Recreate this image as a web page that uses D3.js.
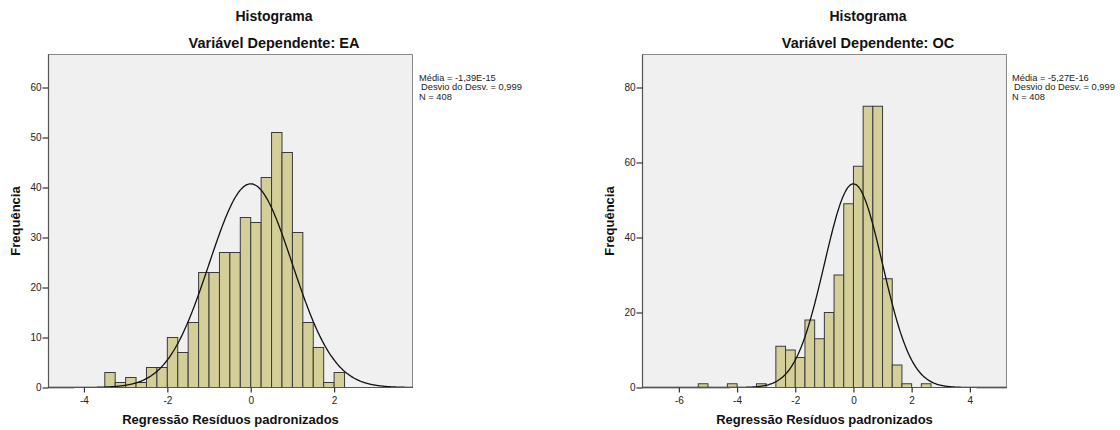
<!DOCTYPE html>
<html>
<head>
<meta charset="utf-8">
<script src="https://cdn.jsdelivr.net/npm/d3@7"></script>
<style>
  html, body { margin: 0; padding: 0; background: #ffffff; }
  svg { display: block; font-family: "Liberation Sans", Arial, sans-serif; }
</style>
</head>
<body>
<svg id="chart" width="1120" height="430"></svg>
<script>
// ---------- DATA ----------
const titleMain = "Histograma";
const yLabel = "Frequência";
const xLabel = "Regressão Resíduos padronizados";

// Panel EA
const eaTitle = "Variável Dependente: EA";
const eaBinStart = [-3.5, -3.25, -3.0, -2.75, -2.5, -2.25, -2.0, -1.75, -1.5, -1.25, -1.0, -0.75,
                    -0.5, -0.25, 0.0, 0.25, 0.5, 0.75, 1.0, 1.25, 1.5, 1.75, 2.0];
const eaCounts   = [3, 1, 2, 1, 4, 4, 10, 7, 13, 23, 23, 27, 27, 34, 33, 42, 51, 47, 31, 13, 8, 1, 3];
const eaBinWidth = 0.25;
const eaMean = -1.39e-15, eaSD = 0.999, eaN = 408;
const eaStats = ["Média = -1,39E-15", " Desvio do Desv. = 0,999", "N = 408"];
const eaXTicks = [-4, -2, 0, 2];
const eaYTicks = [0, 10, 20, 30, 40, 50, 60];

// Panel OC
const ocTitle = "Variável Dependente: OC";
const ocBinStart = [-16/3, -13/3, -10/3, -8/3, -7/3, -2, -5/3, -4/3, -1, -2/3, -1/3, 0,
                    1/3, 2/3, 1, 4/3, 5/3, 7/3];
const ocCounts   = [1, 1, 1, 11, 10, 8, 18, 13, 20, 30, 49, 59, 75, 75, 29, 6, 1, 1];
const ocBinWidth = 1/3;
const ocMean = -5.27e-16, ocSD = 0.999, ocN = 408;
const ocStats = ["Média = -5,27E-16", " Desvio do Desv. = 0,999", "N = 408"];
const ocXTicks = [-6, -4, -2, 0, 2, 4];
const ocYTicks = [0, 20, 40, 60, 80];

// ---------- DRAW ----------
const svg = d3.select("#chart");
const fmt = d => String(d); // plain hyphen-minus, as in the reference

function drawPanel(cfg) {
  const g = svg.append("g");
  const x = d3.scaleLinear().domain(cfg.xDomain).range([cfg.left, cfg.right]);
  const y = d3.scaleLinear().domain(cfg.yDomain).range([cfg.bottom, cfg.top]);

  // plot background
  g.append("rect")
    .attr("x", cfg.left).attr("y", cfg.top)
    .attr("width", cfg.right - cfg.left).attr("height", cfg.bottom - cfg.top)
    .attr("fill", "#f0f0f0").attr("stroke", "#8a8a8a").attr("stroke-width", 1);

  // bars
  const bins = cfg.starts.map((s, i) => ({ x0: s, x1: s + cfg.binWidth, n: cfg.counts[i] }));
  g.append("g").selectAll("rect").data(bins).join("rect")
    .attr("x", d => x(d.x0))
    .attr("width", d => x(d.x1) - x(d.x0))
    .attr("y", d => y(d.n))
    .attr("height", d => y(0) - y(d.n))
    .attr("fill", "#d4cf98")
    .attr("stroke", "#3a3a3a")
    .attr("stroke-width", 1);

  // normal curve
  const pts = d3.range(0, 401).map(i => {
    const xv = cfg.xDomain[0] + (cfg.xDomain[1] - cfg.xDomain[0]) * i / 400;
    const z = (xv - cfg.mean) / cfg.sd;
    const dens = cfg.n * cfg.binWidth / (cfg.sd * Math.sqrt(2 * Math.PI)) * Math.exp(-0.5 * z * z);
    return [xv, dens];
  });
  g.append("path")
    .datum(pts)
    .attr("fill", "none")
    .attr("stroke", "#111")
    .attr("stroke-width", 1.3)
    .attr("d", d3.line().x(d => x(d[0])).y(d => y(d[1])).curve(d3.curveBasis));

  // axes
  const xAxis = g.append("g")
    .attr("transform", `translate(0,${cfg.bottom})`)
    .call(d3.axisBottom(x).tickValues(cfg.xTicks).tickSize(5).tickPadding(4).tickFormat(fmt));
  const yAxis = g.append("g")
    .attr("transform", `translate(${cfg.left},0)`)
    .call(d3.axisLeft(y).tickValues(cfg.yTicks).tickSize(6).tickPadding(1).tickFormat(fmt));
  [xAxis, yAxis].forEach(a => {
    a.select(".domain").attr("stroke", "#555").attr("stroke-width", 1.2);
    a.selectAll(".tick line").attr("stroke", "#333").attr("stroke-width", 1.2);
    a.selectAll(".tick text").attr("fill", "#222").attr("font-size", 10)
      .attr("font-family", "'Liberation Sans', Arial, sans-serif");
  });
  xAxis.select(".domain").attr("d", `M${cfg.left},0H${cfg.right}`);
  yAxis.select(".domain").attr("d", `M0,${cfg.bottom}V${cfg.top}`);

  // titles
  g.append("text").attr("x", cfg.titleX).attr("y", 20.5)
    .attr("text-anchor", "middle").attr("font-size", 14).attr("font-weight", "bold")
    .attr("fill", "#111").text(titleMain);
  g.append("text").attr("x", cfg.titleX).attr("y", 47.5)
    .attr("text-anchor", "middle").attr("font-size", 14.5).attr("font-weight", "bold")
    .attr("fill", "#111").text(cfg.subtitle);

  // axis labels
  g.append("text").attr("x", (cfg.left + cfg.right) / 2).attr("y", 424)
    .attr("text-anchor", "middle").attr("font-size", 13).attr("font-weight", "bold")
    .attr("fill", "#111").text(xLabel);
  g.append("text")
    .attr("transform", `translate(${cfg.yLabelX},${(cfg.top + cfg.bottom) / 2}) rotate(-90)`)
    .attr("text-anchor", "middle").attr("font-size", 13).attr("font-weight", "bold")
    .attr("fill", "#111").text(yLabel);

  // stats box text
  const st = g.append("text").attr("font-size", 9.3).attr("fill", "#222");
  cfg.stats.forEach((s, i) => {
    st.append("tspan").attr("x", cfg.statsX + (s.startsWith(" ") ? 2 : 0))
      .attr("y", 80.5 + i * 9.5).text(s.trim());
  });
}

drawPanel({
  left: 48.5, right: 412.5, top: 54.5, bottom: 387.5,
  xDomain: [-4.85, 3.88], yDomain: [0, 66.6],
  starts: eaBinStart, counts: eaCounts, binWidth: eaBinWidth,
  mean: eaMean, sd: eaSD, n: eaN,
  xTicks: eaXTicks, yTicks: eaYTicks,
  subtitle: eaTitle, stats: eaStats, statsX: 419,
  titleX: 274, yLabelX: 20
});

drawPanel({
  left: 642.5, right: 1006.5, top: 54.5, bottom: 387.5,
  xDomain: [-7.25, 5.26], yDomain: [0, 88.8],
  starts: ocBinStart, counts: ocCounts, binWidth: ocBinWidth,
  mean: ocMean, sd: ocSD, n: ocN,
  xTicks: ocXTicks, yTicks: ocYTicks,
  subtitle: ocTitle, stats: ocStats, statsX: 1012,
  titleX: 868, yLabelX: 614
});
</script>
</body>
</html>
